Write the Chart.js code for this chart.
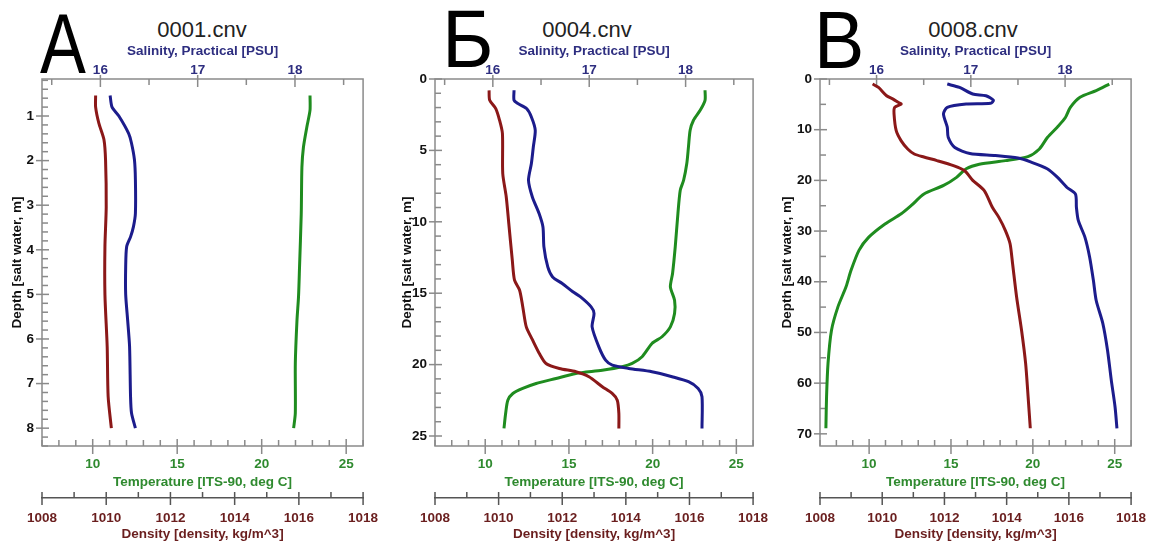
<!DOCTYPE html>
<html>
<head>
<meta charset="utf-8">
<script src="https://cdn.jsdelivr.net/npm/chart.js@4/dist/chart.umd.min.js"></script>
<style>
  html, body { margin: 0; padding: 0; background: #fff; }
  body { width: 1158px; height: 543px; position: relative; overflow: hidden; font-family: "Liberation Sans", Arial, sans-serif; }
  .panel { position: absolute; top: 0; height: 543px; }
  .letter { position: absolute; line-height: 1; color: #000; transform-origin: left top; }
  .fname { position: absolute; top: 17px; font-size: 22px; line-height: 26px; color: #222; transform: translateX(-50%); white-space: nowrap; }
</style>
</head>
<body>
<div class="letter" style="left:40px; top:0px; font-size:86px; transform:scaleX(0.8)">А</div>
<div class="letter" style="left:442px; top:-2px; font-size:82px; transform:scaleX(0.96)">Б</div>
<div class="letter" style="left:814px; top:-1px; font-size:82px; transform:scaleX(0.92)">В</div>
<div class="fname" style="left:202px">0001.cnv</div>
<div class="fname" style="left:587px">0004.cnv</div>
<div class="fname" style="left:973px">0008.cnv</div>

<div class="panel" style="left:0; width:390px"><canvas id="chartA"></canvas></div>
<div class="panel" style="left:390px; width:390px"><canvas id="chartB"></canvas></div>
<div class="panel" style="left:775px; width:383px"><canvas id="chartC"></canvas></div>

<script>
// оси
const SAL_MIN = 15.4, SAL_MAX = 18.7;
const TEMP_MIN = 7, TEMP_MAX = 26;
const DENS_MIN = 1008, DENS_MAX = 1018;

const salTicks = [16, 17, 18];
const tempTicks = [10, 15, 20, 25];
const densTicks = [1008, 1010, 1012, 1014, 1016, 1018];

// А — 0001.cnv
const depthTicksA = [1, 2, 3, 4, 5, 6, 7, 8];
const salDepthA = [0.54, 0.8, 1.0, 1.39, 1.61, 1.98, 2.43, 3.18, 3.48, 3.71, 3.93, 4.38, 5.0, 5.57, 6.17, 7.29, 7.66, 8.0];
const salA = [16.10, 16.12, 16.19, 16.29, 16.32, 16.35, 16.36, 16.36, 16.34, 16.31, 16.27, 16.26, 16.26, 16.28, 16.30, 16.31, 16.32, 16.36];
const tempDepthA = [0.54, 0.87, 1.25, 1.70, 2.15, 3.2, 4.38, 5.05, 5.57, 6.55, 7.66, 8.0];
const tempA = [22.86, 22.86, 22.67, 22.47, 22.38, 22.34, 22.24, 22.18, 22.09, 21.99, 21.99, 21.89];
const densDepthA = [0.54, 0.8, 1.16, 1.53, 2.0, 3.04, 3.93, 5.0, 6.17, 7.29, 8.0];
const densA = [1009.67, 1009.67, 1009.77, 1009.93, 1009.98, 1010.0, 1009.96, 1009.96, 1010.03, 1010.06, 1010.16];

// Б — 0004.cnv
const depthTicksB = [0, 5, 10, 15, 20, 25];
const salDepthB = [0.79, 1.49, 1.72, 2.07, 2.66, 3.59, 4.76, 5.92, 7.09, 8.26, 9.42, 10.36, 11.76, 13.16, 13.86, 14.32, 14.9, 15.26, 15.96, 16.42, 17.36, 18.76, 19.69, 20.04, 20.27, 20.5, 20.85, 21.2, 21.67, 22.25, 24.47];
const salB = [16.22, 16.22, 16.26, 16.35, 16.40, 16.44, 16.42, 16.40, 16.37, 16.41, 16.48, 16.52, 16.53, 16.57, 16.62, 16.72, 16.83, 16.91, 17.02, 17.05, 17.03, 17.10, 17.17, 17.24, 17.41, 17.65, 17.86, 18.03, 18.13, 18.17, 18.17];
const tempDepthB = [0.79, 1.49, 2.19, 2.89, 3.59, 4.76, 5.92, 7.09, 7.79, 9.42, 11.76, 13.62, 14.56, 15.49, 16.42, 17.36, 18.05, 18.52, 19.45, 19.92, 20.15, 20.39, 20.62, 20.97, 21.32, 21.67, 22.02, 22.49, 23.41, 24.47];
const tempB = [23.13, 23.13, 22.84, 22.44, 22.24, 22.14, 22.04, 21.85, 21.65, 21.51, 21.35, 21.19, 21.06, 21.31, 21.31, 21.06, 20.56, 19.96, 19.37, 18.78, 18.18, 16.99, 15.41, 14.23, 13.04, 12.24, 11.65, 11.35, 11.22, 11.12];
const densDepthB = [0.79, 1.49, 2.07, 2.89, 3.82, 6.62, 8.26, 10.12, 12.69, 14.09, 14.79, 15.96, 17.36, 18.29, 19.22, 19.92, 20.27, 20.5, 20.85, 21.55, 22.02, 22.49, 23.41, 24.47];
const densB = [1009.70, 1009.72, 1009.91, 1010.03, 1010.12, 1010.13, 1010.24, 1010.32, 1010.43, 1010.50, 1010.66, 1010.76, 1010.87, 1011.07, 1011.28, 1011.49, 1011.91, 1012.43, 1012.84, 1013.26, 1013.57, 1013.73, 1013.78, 1013.78];

// В — 0008.cnv
const depthTicksC = [0, 10, 20, 30, 40, 50, 60, 70];
const salDepthC = [1.0, 1.67, 2.97, 3.3, 4.2, 4.8, 4.95, 5.6, 6.9, 9.5, 11.5, 13.5, 14.7, 15.1, 15.6, 16.4, 17.7, 19.4, 21.4, 22.7, 25.3, 27.9, 31.2, 35.1, 39.7, 43.7, 48.2, 53.5, 59.4, 64.7, 68.9];
const salC = [16.75, 16.88, 17.02, 17.16, 17.24, 17.21, 16.95, 16.75, 16.71, 16.75, 16.76, 16.83, 16.99, 17.26, 17.50, 17.64, 17.81, 17.92, 18.02, 18.11, 18.12, 18.14, 18.21, 18.26, 18.30, 18.33, 18.40, 18.45, 18.49, 18.53, 18.55];
const tempDepthC = [1.0, 2.3, 3.6, 5.6, 7.6, 9.5, 11.5, 13.8, 15.3, 16.1, 16.8, 17.7, 19.4, 21.0, 22.7, 25.0, 26.6, 28.6, 31.2, 33.8, 37.8, 41.0, 45.0, 49.6, 56.1, 62.7, 68.9];
const tempC = [24.67, 23.87, 22.88, 22.29, 21.99, 21.49, 20.90, 20.40, 19.70, 18.32, 16.73, 15.93, 15.34, 14.55, 13.35, 12.56, 11.96, 10.97, 9.98, 9.38, 8.89, 8.59, 8.09, 7.70, 7.49, 7.40, 7.36];
const densDepthC = [1.0, 1.67, 3.3, 3.96, 4.6, 4.95, 5.6, 6.9, 10.2, 12.2, 13.8, 14.8, 15.4, 16.1, 17.1, 18.1, 20.0, 22.0, 25.3, 27.3, 29.9, 32.5, 36.4, 43.0, 49.6, 56.1, 62.7, 68.9];
const densC = [1009.69, 1009.88, 1010.14, 1010.35, 1010.51, 1010.61, 1010.40, 1010.38, 1010.45, 1010.61, 1010.82, 1011.03, 1011.34, 1011.76, 1012.29, 1012.65, 1012.91, 1013.28, 1013.54, 1013.75, 1013.96, 1014.11, 1014.19, 1014.32, 1014.48, 1014.61, 1014.69, 1014.76];

const RED = '#8b1818', BLUE = '#1c1c8c', GREEN = '#1f8c1f';
const SAL_C = '#2e2e80', TEMP_C = '#2f8a2f', DENS_C = '#6a1e1e';
const FONT = { family: '"Liberation Sans", Arial, sans-serif', size: 13.5, weight: 'bold' };

const pts = (depths, vals) => depths.map((d, i) => ({ x: vals[i], y: d }));
const fixTicks = arr => scale => { scale.ticks = arr.map(v => ({ value: v })); };

// засечки внутрь рамки, как в SeaBird
const ctdTicks = {
  id: 'ctdTicks',
  beforeDatasetsDraw(chart, args, o) {
    const { ctx, chartArea: a, scales } = chart;
    const seg = (x1, y1, x2, y2) => { ctx.beginPath(); ctx.moveTo(x1, y1); ctx.lineTo(x2, y2); ctx.stroke(); };
    const minors = (s, step) => {
      const majors = s.ticks.map(t => t.value);
      const lo = Math.min(s.min, s.max), hi = Math.max(s.min, s.max);
      const out = [];
      for (let k = Math.ceil(lo / step - 1e-9); k * step <= hi + 1e-9; k++) {
        const v = +(k * step).toFixed(6);
        if (!majors.some(m => Math.abs(m - v) < 1e-6)) out.push(v);
      }
      return out;
    };
    ctx.save();
    ctx.lineWidth = 1.5;
    ctx.strokeStyle = '#8a8a8a';
    ctx.strokeRect(a.left, a.top, a.right - a.left, a.bottom - a.top);

    const y = scales.y;
    y.ticks.forEach(t => { const p = y.getPixelForValue(t.value); seg(a.left - 6, p, a.left + 7, p); });
    minors(y, o.depthMinor).forEach(v => { const p = y.getPixelForValue(v); seg(a.left, p, a.left + 6, p); });

    const s = scales.sal;
    s.ticks.forEach(t => { const p = s.getPixelForValue(t.value); seg(p, a.top - 4, p, a.top + 8); });
    minors(s, 0.5).forEach(v => { const p = s.getPixelForValue(v); seg(p, a.top, p, a.top + 6); });

    const tp = scales.temp;
    tp.ticks.forEach(t => { const p = tp.getPixelForValue(t.value); seg(p, a.bottom - 7, p, a.bottom + 8); });
    minors(tp, 1).forEach(v => { const p = tp.getPixelForValue(v); seg(p, a.bottom - 6, p, a.bottom); });

    const d = scales.dens, dy = d.top;
    ctx.strokeStyle = '#555';
    d.ticks.forEach(t => { const p = d.getPixelForValue(t.value); seg(p, dy - 6, p, dy + 7); });
    minors(d, 1).forEach(v => { const p = d.getPixelForValue(v); seg(p, dy - 6, p, dy); });
    ctx.restore();
  }
};

function makeChart(id, p) {
  const line = (label, data, axis, color) => ({
    label, data, xAxisID: axis, yAxisID: 'y', borderColor: color, borderWidth: 3,
    pointRadius: 0, tension: 0.25, fill: false
  });
  return new Chart(document.getElementById(id), {
    type: 'line',
    data: {
      datasets: [
        line('Density', pts(p.dens[0], p.dens[1]), 'dens', RED),
        line('Salinity', pts(p.sal[0], p.sal[1]), 'sal', BLUE),
        line('Temperature', pts(p.temp[0], p.temp[1]), 'temp', GREEN)
      ]
    },
    plugins: [ctdTicks],
    options: {
      indexAxis: 'y',
      responsive: true,
      maintainAspectRatio: false,
      animation: false,
      events: [],
      layout: { padding: { left: 0, right: p.padRight, top: 0, bottom: 0 } },
      plugins: {
        legend: { display: false },
        title: { display: false },
        tooltip: { enabled: false },
        ctdTicks: { depthMinor: p.depthMinor }
      },
      scales: {
        y: {
          type: 'linear', position: 'left', reverse: true, min: p.depthMin, max: p.depthMax,
          afterBuildTicks: fixTicks(p.depthTicks),
          afterFit: sc => { sc.width = p.yWidth; },
          grid: { display: false, drawTicks: false }, border: { display: false },
          ticks: { color: '#111', font: FONT, padding: 8, callback: v => String(v) },
          title: { display: true, text: 'Depth [salt water, m]', color: '#111', font: FONT, padding: { top: p.yTitlePad, bottom: 0 } }
        },
        sal: {
          type: 'linear', position: 'top', min: SAL_MIN, max: SAL_MAX,
          afterBuildTicks: fixTicks(salTicks),
          afterFit: sc => { sc.height = 79; },
          grid: { display: false, drawTicks: false }, border: { display: false },
          ticks: { color: SAL_C, font: FONT, padding: 1, maxRotation: 0, callback: v => String(v) },
          title: { display: true, text: 'Salinity, Practical [PSU]', color: SAL_C, font: FONT, padding: { top: 43.5, bottom: 0 } }
        },
        temp: {
          type: 'linear', position: 'bottom', weight: 0, min: TEMP_MIN, max: TEMP_MAX,
          afterBuildTicks: fixTicks(tempTicks),
          afterFit: sc => { sc.height = 52; },
          grid: { display: false, drawTicks: false }, border: { display: false },
          ticks: { color: TEMP_C, font: FONT, padding: 10.4, maxRotation: 0, callback: v => String(v) },
          title: { display: true, text: 'Temperature [ITS-90, deg C]', color: TEMP_C, font: FONT, padding: { top: 0, bottom: 8 } }
        },
        dens: {
          type: 'linear', position: 'bottom', weight: 1, min: DENS_MIN, max: DENS_MAX,
          afterBuildTicks: fixTicks(densTicks),
          afterFit: sc => { sc.height = 45; },
          grid: { display: false, drawTicks: false },
          border: { display: true, color: '#555', width: 1.5 },
          ticks: { color: DENS_C, font: FONT, padding: 11.9, maxRotation: 0, callback: v => String(v) },
          title: { display: true, text: 'Density [density, kg/m^3]', color: DENS_C, font: FONT, padding: { top: 0, bottom: 1 } }
        }
      }
    }
  });
}

makeChart('chartA', {
  depthMin: 0.17, depthMax: 8.4, depthTicks: depthTicksA, depthMinor: 0.2,
  yWidth: 42, yTitlePad: 9.4, padRight: 21,
  sal: [salDepthA, salA], temp: [tempDepthA, tempA], dens: [densDepthA, densA]
});
makeChart('chartB', {
  depthMin: 0, depthMax: 25.7, depthTicks: depthTicksB, depthMinor: 1,
  yWidth: 45, yTitlePad: 9.4, padRight: 25,
  sal: [salDepthB, salB], temp: [tempDepthB, tempB], dens: [densDepthB, densB]
});
makeChart('chartC', {
  depthMin: 0, depthMax: 72.4, depthTicks: depthTicksC, depthMinor: 5,
  yWidth: 45, yTitlePad: 4.4, padRight: 19,
  sal: [salDepthC, salC], temp: [tempDepthC, tempC], dens: [densDepthC, densC]
});
</script>
</body>
</html>
